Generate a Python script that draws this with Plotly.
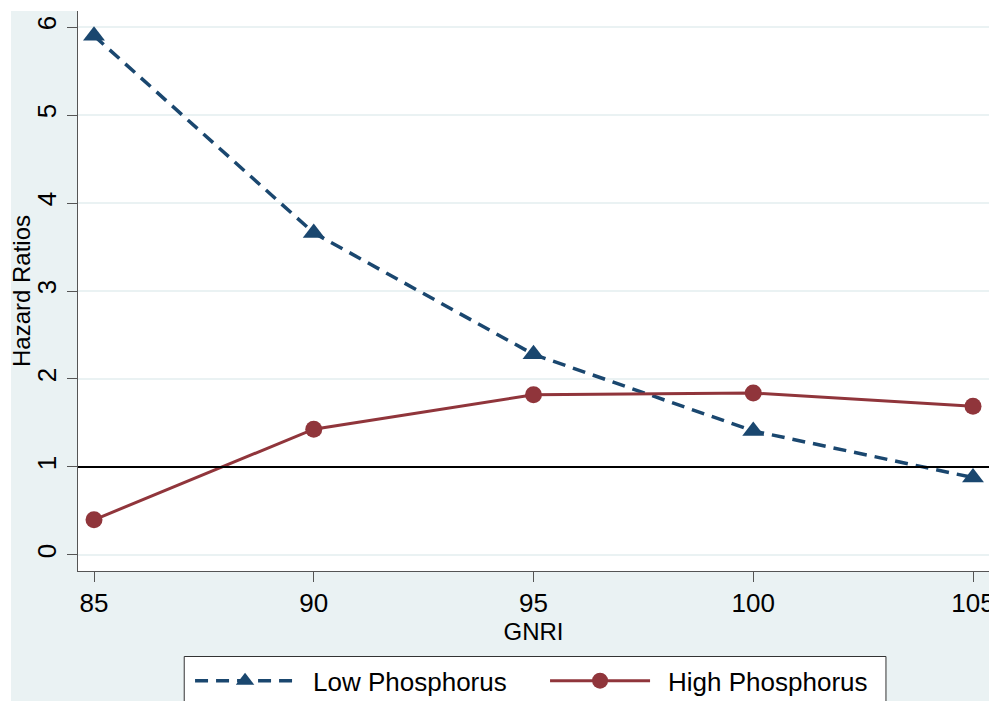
import plotly.graph_objects as go

gnri = [85, 90, 95, 100, 105]
low_phos = [5.90, 3.66, 2.28, 1.41, 0.88]
high_phos = [0.40, 1.43, 1.82, 1.84, 1.69]
x_ticks = [85, 90, 95, 100, 105]
y_ticks = [0, 1, 2, 3, 4, 5, 6]
ref_value = 1

NAVY = "#1a476f"
MAROON = "#90353b"
BG = "#eaf2f3"
FONT = "Liberation Sans, Arial, sans-serif"
GAP = "\u2002"

fig = go.Figure()
fig.add_trace(go.Scatter(
    x=gnri, y=low_phos, name=GAP + "Low Phosphorus", mode="lines+markers",
    line=dict(color=NAVY, width=3.5, dash="13px,8px"),
    marker=dict(symbol="triangle-up", size=19, color=NAVY),
))
fig.add_trace(go.Scatter(
    x=gnri, y=high_phos, name=GAP + "High Phosphorus", mode="lines+markers",
    line=dict(color=MAROON, width=3),
    marker=dict(symbol="circle", size=17, color=MAROON),
))

# outer light background and white plot region
fig.add_shape(type="rect", xref="paper", yref="paper", x0=-0.0735, x1=1.0066,
              y0=-0.30, y1=1.0, fillcolor=BG, line=dict(width=0), layer="below")
fig.add_shape(type="rect", xref="paper", yref="paper", x0=0, x1=1,
              y0=0, y1=1, fillcolor="white", line=dict(width=0), layer="below")
# legend box (extends past the bottom edge, as in the reference)
fig.add_shape(type="rect", xref="paper", yref="paper", x0=0.1166, x1=0.8869,
              y0=-0.35, y1=-0.1527, fillcolor="white",
              line=dict(color="#333333", width=1), layer="below")
# reference line
fig.add_shape(type="line", xref="paper", yref="y", x0=0, x1=1,
              y0=ref_value, y1=ref_value, line=dict(color="black", width=2.2))

fig.update_layout(
    width=989, height=693,
    margin=dict(l=70, r=8, t=3, b=130, autoexpand=False),
    paper_bgcolor="white", plot_bgcolor="white",
    font=dict(family=FONT, size=26, color="black"),
    showlegend=True,
    legend=dict(orientation="h", x=0.123, xanchor="left", y=-0.154, yanchor="top",
                borderwidth=0, bgcolor="rgba(0,0,0,0)",
                font=dict(size=26, family=FONT), itemwidth=100,
                entrywidth=240, entrywidthmode="pixels",
                traceorder="normal"),
    xaxis=dict(
        range=[84.636, 105.364], tickvals=x_ticks, ticks="outside", ticklen=10,
        tickcolor="#555555", showline=True, linecolor="#555555", linewidth=1.2,
        showgrid=False, zeroline=False, automargin=False,
        tickfont=dict(size=26, family=FONT), ticklabelstandoff=-1,
        title=dict(text="GNRI", font=dict(size=24, family=FONT), standoff=0),
    ),
    yaxis=dict(
        range=[-0.182, 6.182], tickvals=y_ticks, ticks="outside", ticklen=10,
        tickcolor="#555555", showline=True, linecolor="#555555", linewidth=1.2,
        showgrid=True, gridcolor=BG, gridwidth=2, zeroline=False, automargin=False,
        tickangle=-90, tickfont=dict(size=26, family=FONT), ticklabelstandoff=1,
        title=dict(text="Hazard Ratios", font=dict(size=24, family=FONT), standoff=4),
    ),
)

fig.write_html("out.html")
